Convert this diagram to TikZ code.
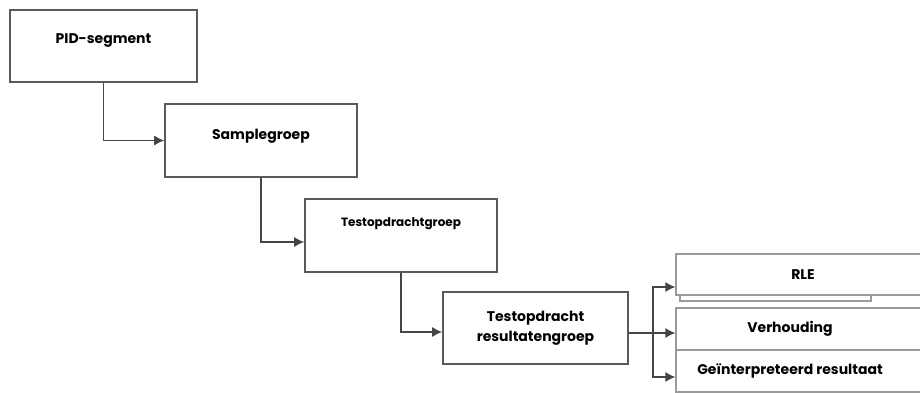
\documentclass[tikz,border=0pt]{standalone}
\usepackage{fontspec}
\setmainfont{Poppins}
\usetikzlibrary{arrows.meta}
\definecolor{kader}{HTML}{5A5A5A}
\definecolor{kaderlicht}{HTML}{9A9A9A}
\definecolor{verbinder}{HTML}{454545}
\tikzset{
  blok/.style={draw=kader,line width=1.6pt,rectangle,font=\bfseries\fontsize{14}{16}\selectfont,text height=10pt},
  rechts/.style={draw=kaderlicht,line width=1.2pt,fill=white,rectangle,minimum width=254pt,font=\bfseries\fontsize{14}{16}\selectfont},
  pijl/.style={draw=verbinder,line width=1.4pt,-{Latex[length=10pt,width=10pt]}}
}
\begin{document}
\begin{tikzpicture}[x=1pt,y=-1pt]
        \useasboundingbox (0,0) rectangle (920,393);
        \node[blok,minimum width=187pt,minimum height=72pt,text depth=14pt] (pid) at (103.5,46) {PID-segment};
        \node[blok,minimum width=192pt,minimum height=73pt,text depth=12pt] (sample) at (261,140.5) {Samplegroep};
        \node[blok,minimum width=192pt,minimum height=73pt,text depth=28pt,font=\bfseries\fontsize{12}{14}\selectfont] (test) at (401,235.5) {Testopdrachtgroep};
        \node[blok,minimum width=185pt,minimum height=72pt,align=center,text height=,text depth=,font=\bfseries\fontsize{14}{20}\selectfont] (res) at (535.5,328) {Testopdracht\\resultatengroep};
        % achterste kader onder RLE
        \draw[draw=kaderlicht,line width=1.2pt] (680,262) rectangle (871,301);
        \node[rechts,minimum height=41pt] (rle) at (803,274.5) {RLE};
        \node[rechts,minimum height=42pt] (verh) at (803,329) {Verhouding\hspace*{26pt}};
        \node[rechts,minimum height=42pt] (gei) at (803,371) {Geïnterpreteerd resultaat\hspace*{26pt}};
        \coordinate (splitsing) at (653,333);
        \draw[pijl] (pid.south) |- (sample.west);
        \draw[pijl] (sample.south) |- ([yshift=-6.5pt]test.west);
        \draw[pijl] (test.south) |- ([yshift=-4pt]res.west);
        \draw[pijl] ([yshift=-5pt]res.east) -- ([yshift=-4pt]verh.west);
        \draw[pijl] (splitsing) |- ([yshift=-12.5pt]rle.west);
        \draw[pijl] (splitsing) |- ([yshift=-6pt]gei.west);
\end{tikzpicture}
\end{document}
